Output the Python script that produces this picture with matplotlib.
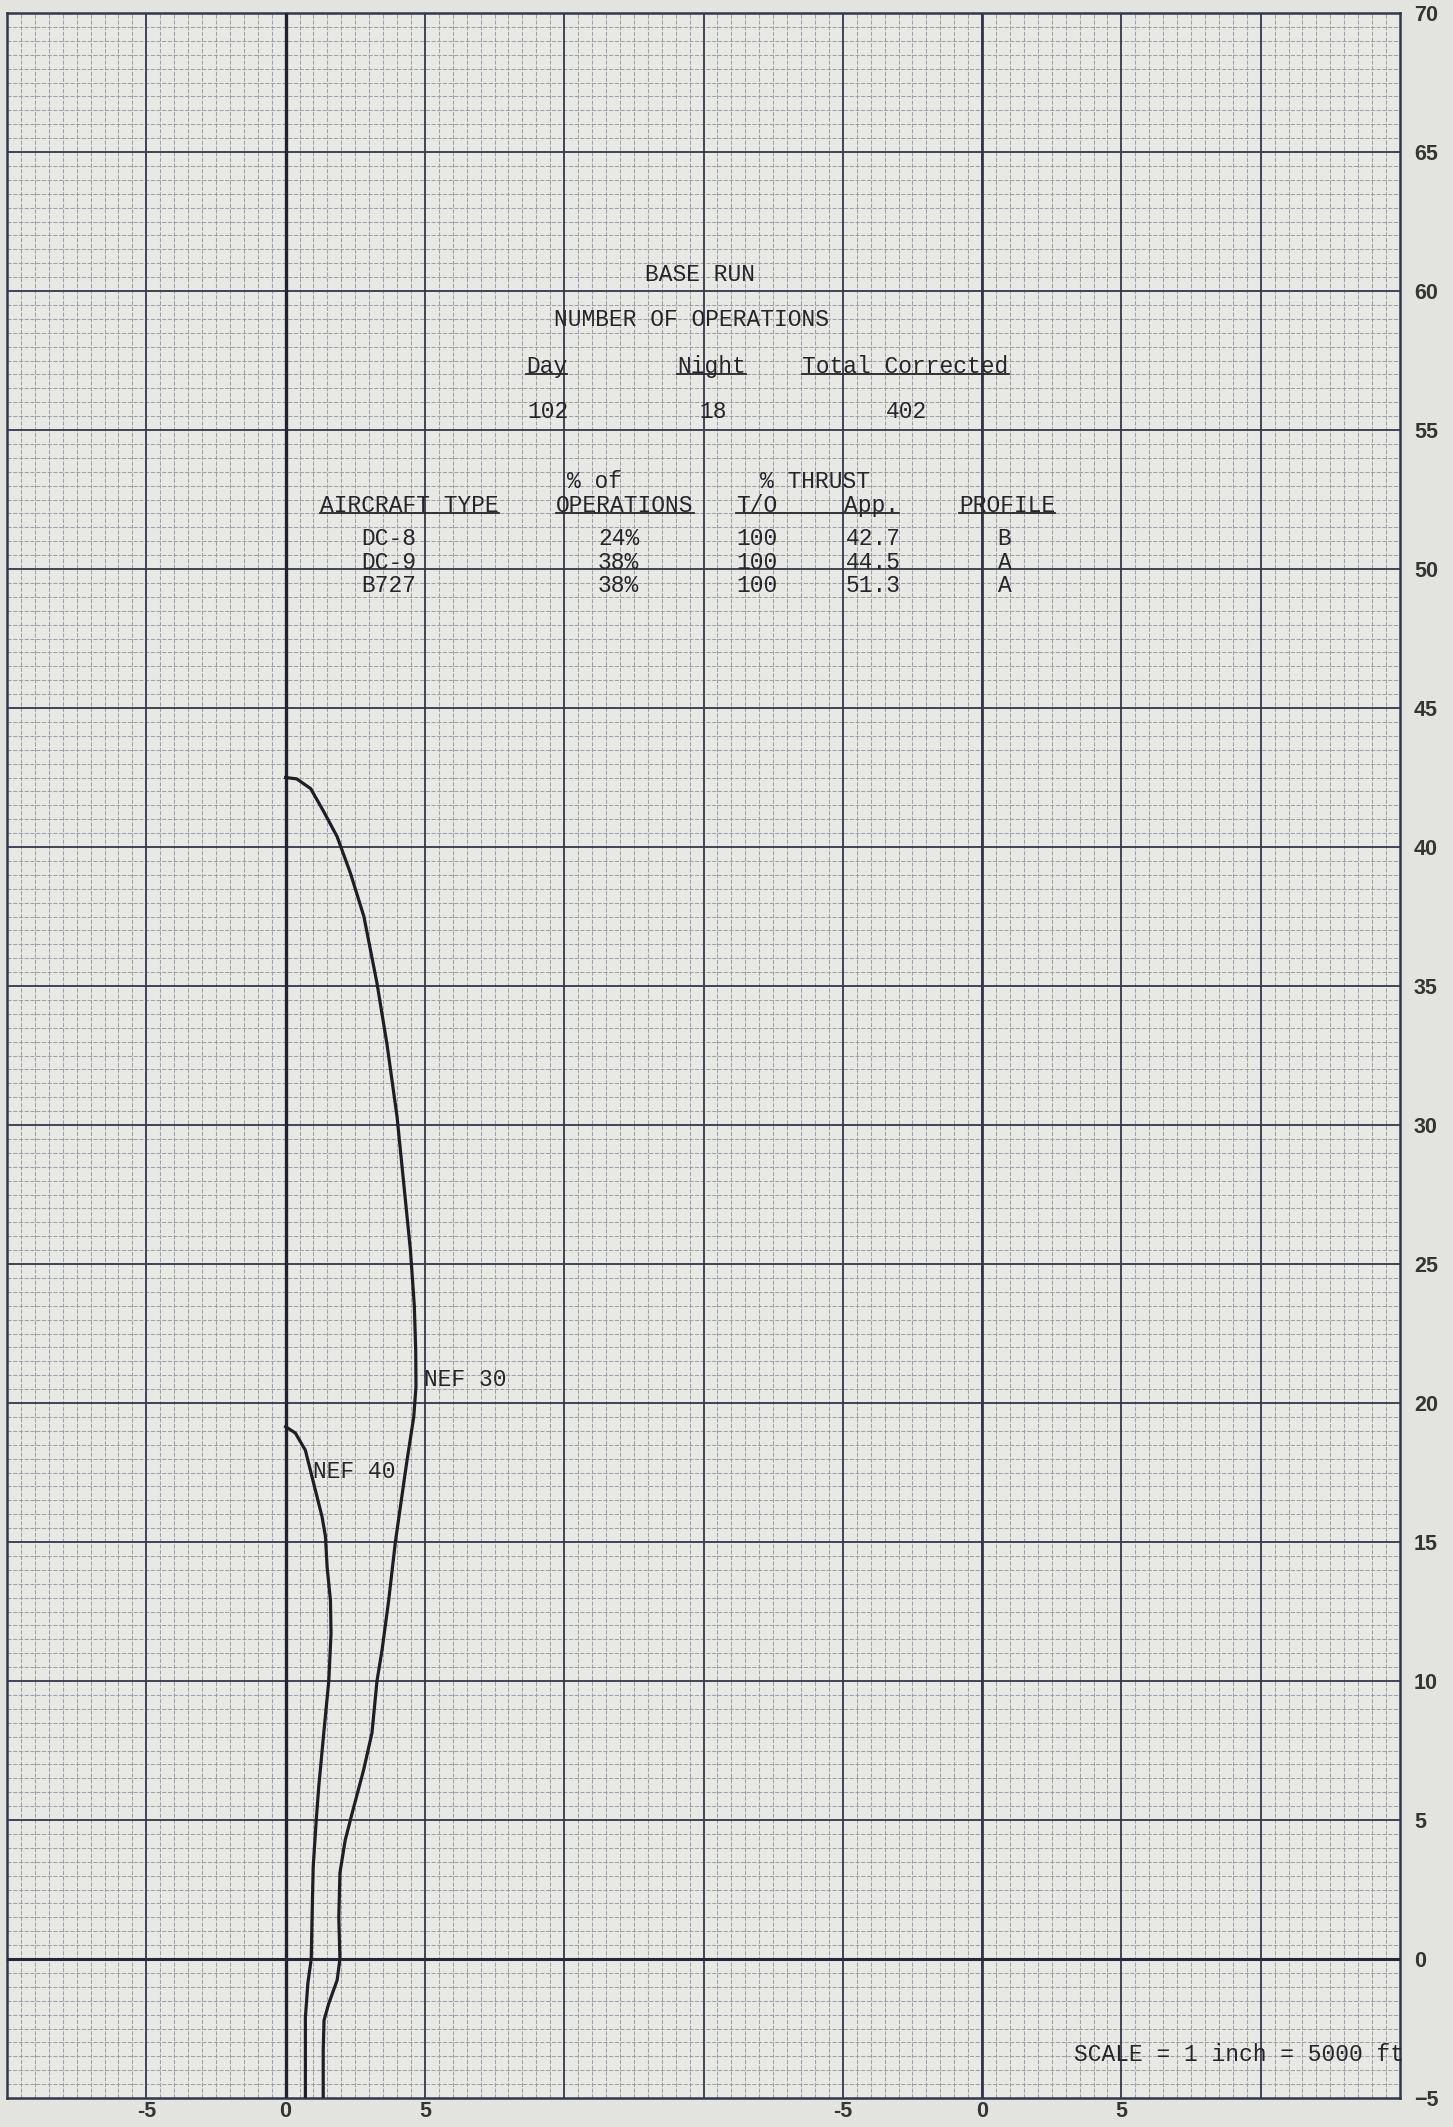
import numpy as np
import matplotlib
matplotlib.use("Agg")
import matplotlib.pyplot as plt

# ----------------------------------------------------------------------
# DATA (grid units, 1 unit = 1000 ft)
# ----------------------------------------------------------------------
nef30_x = [0.0, 0.4, 0.9, 1.37, 1.85, 2.33, 2.81, 3.28, 3.64, 4.0, 4.24, 4.48,
           4.62, 4.67, 4.68, 4.6, 4.36, 4.12, 3.94, 3.7, 3.46, 3.28, 3.1, 2.8,
           2.39, 2.14, 1.95, 1.91, 1.95, 1.85, 1.55, 1.38, 1.35, 1.35]
nef30_y = [42.5, 42.45, 42.1, 41.27, 40.37, 39.05, 37.5, 35.1, 32.9, 30.3, 27.9, 25.5,
           23.5, 21.9, 20.6, 19.5, 17.95, 16.27, 15.0, 12.9, 11.1, 10.0, 8.13, 6.8,
           5.25, 4.28, 3.1, 1.5, 0.0, -0.76, -1.6, -2.2, -3.3, -5.0]

nef40_x = [0.0, 0.35, 0.71, 1.01, 1.31, 1.43, 1.49, 1.61, 1.63, 1.55, 1.37, 1.19,
           1.1, 0.99, 0.95, 0.92, 0.8, 0.71, 0.71]
nef40_y = [19.15, 18.92, 18.3, 17.1, 15.9, 15.2, 14.1, 12.9, 11.7, 10.0, 8.13, 6.2,
           5.0, 3.3, 1.5, 0.0, -0.86, -2.1, -5.0]

right_ticks = list(range(-5, 75, 5))
bottom_ticks = [-5, 0, 5, 20, 25, 30]
bottom_labels = ['-5', '0', '5', '-5', '0', '5']

ops_heads = ['Day', 'Night', 'Total Corrected']
ops_values = ['102', '18', '402']

aircraft = ['DC-8', 'DC-9', 'B727']
pct_ops = ['24%', '38%', '38%']
thrust_to = ['100', '100', '100']
thrust_app = ['42.7', '44.5', '51.3']
profile = ['B', 'A', 'A']

# ----------------------------------------------------------------------
# STYLE
# ----------------------------------------------------------------------
PAPER = '#e8e9e5'
MARGIN = '#e3e3df'
MINOR = '#9ea1a9'
MAJOR = '#33374a'
INK = '#26262a'
TYPE = dict(family='Liberation Mono', fontsize=16.5, color=INK)

fig = plt.figure(figsize=(14.53, 21.27), dpi=100, facecolor=MARGIN)
ax = fig.add_axes([7 / 1453, 1 - 2098 / 2127, 1393 / 1453, 2085 / 2127])
ax.set_facecolor(PAPER)
ax.set_xlim(-10, 40)
ax.set_ylim(-5, 70)

# graph paper: minor every 0.5, major every 5
for v in np.arange(-10, 40.01, 0.5):
    if v % 5:
        ax.axvline(v, color=MINOR, lw=0.75, ls=(0, (4, 1.5)), zorder=1)
for v in np.arange(-5, 70.01, 0.5):
    if v % 5:
        ax.axhline(v, color=MINOR, lw=0.75, ls=(0, (4, 1.5)), zorder=1)
for v in range(-5, 40, 5):
    ax.axvline(v, color=MAJOR, lw=1.3, zorder=2)
for v in range(0, 70, 5):
    ax.axhline(v, color=MAJOR, lw=1.3, zorder=2)
# heavier origin lines
ax.axvline(0, color='#1f2130', lw=2.4, zorder=3)
ax.axvline(25, color=MAJOR, lw=2.0, zorder=3)
ax.axhline(0, color='#262838', lw=2.2, zorder=3)

for s in ax.spines.values():
    s.set_color(MAJOR)
    s.set_linewidth(1.8)

ax.yaxis.tick_right()
ax.set_yticks(right_ticks)
ax.set_xticks(bottom_ticks, bottom_labels)
ax.tick_params(length=0, labelsize=15.5, labelcolor='#353535')
ax.tick_params(axis='y', pad=10)
ax.tick_params(axis='x', pad=2)
for lab in ax.get_xticklabels() + ax.get_yticklabels():
    lab.set_fontfamily('Liberation Sans')
    lab.set_fontweight('bold')

# contours
ax.plot(nef30_x, nef30_y, color='#1e1e24', lw=2.3, zorder=5, solid_joinstyle='round')
ax.plot(nef40_x, nef40_y, color='#1e1e24', lw=2.3, zorder=5, solid_joinstyle='round')
ax.text(4.96, 20.86, 'NEF 30', ha='left', va='center', zorder=6, **TYPE)
ax.text(1.0, 17.55, 'NEF 40', ha='left', va='center', zorder=6, **TYPE)

# ----------------------------------------------------------------------
# typed table
# ----------------------------------------------------------------------
underlined = []


def typed(x, y, s, under=False, ha='center'):
    t = ax.text(x, y, s, ha=ha, va='center', zorder=6, **TYPE)
    if under:
        underlined.append(t)
    return t


typed(14.86, 60.61, 'BASE RUN')
typed(14.57, 58.96, 'NUMBER OF OPERATIONS')
for x, head, val in zip([9.37, 15.29, 22.25], ops_heads, ops_values):
    typed(x, 57.30, head, under=True)
    typed(x + 0.05, 55.65, val)

typed(11.1, 53.13, '% of')
typed(19.0, 53.13, '% THRUST')
typed(4.45, 52.30, 'AIRCRAFT TYPE', under=True)
typed(12.18, 52.30, 'OPERATIONS', under=True)
t_to = typed(16.9, 52.30, 'T/O')
t_app = typed(21.03, 52.30, 'App.')
typed(25.9, 52.30, 'PROFILE', under=True)

rows_y = [51.08, 50.25, 49.39]
for y, a, p, to, app, pr in zip(rows_y, aircraft, pct_ops, thrust_to, thrust_app, profile):
    typed(3.72, y, a)
    typed(11.95, y, p)
    typed(16.92, y, to)
    typed(21.08, y, app)
    typed(25.8, y, pr)

ax.text(28.3, -3.42, 'SCALE = 1 inch = 5000 ft', ha='left', va='center',
        zorder=6, clip_on=False, **TYPE)

# underlines taken from the rendered text extents
fig.canvas.draw()
rend = fig.canvas.get_renderer()
inv = ax.transData.inverted()


def extent(t):
    bb = t.get_window_extent(rend)
    (x0, y0), (x1, y1) = inv.transform([[bb.x0, bb.y0], [bb.x1, bb.y1]])
    return x0, x1, y0


spans = [extent(t) for t in underlined]
a0, _, ay = extent(t_to)
_, a1, _ = extent(t_app)
spans.append((a0, a1, ay))
for x0, x1, y0 in spans:
    ax.plot([x0, x1], [y0 + 0.12, y0 + 0.12], color=INK, lw=1.3, zorder=6)

fig.savefig('out.png', dpi=100, facecolor=MARGIN)
